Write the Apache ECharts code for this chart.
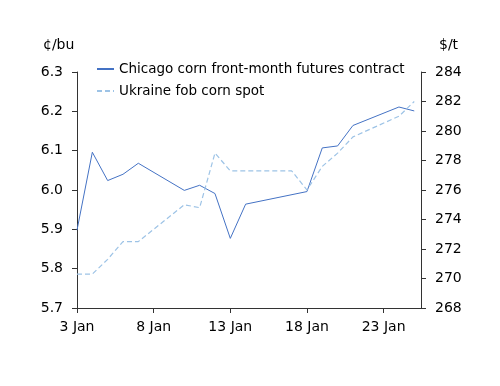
<!DOCTYPE html>
<html>
<head>
<meta charset="utf-8">
<script src="https://cdn.jsdelivr.net/npm/echarts@6/dist/echarts.min.js"></script>
<style>
html,body{margin:0;padding:0;background:#fff;}
#c{width:500px;height:386px;}
</style>
</head>
<body>
<div id="c"></div>
<script>
// Day of January 2022 (trading days)
const chicagoDays = [3,4,5,6,7,10,11,12,13,14,18,19,20,21,24,25];
const chicagoValues = [5.898,6.096,6.024,6.04,6.068,5.999,6.012,5.991,5.877,5.964,5.996,6.107,6.112,6.164,6.211,6.201];
const ukraineDays = [3,4,5,6,7,10,11,12,13,14,17,18,19,20,21,24,25];
const ukraineValues = [270.3,270.3,271.3,272.5,272.5,275.0,274.8,278.5,277.3,277.3,277.3,276.0,277.6,278.5,279.6,281.0,282.0];
const seriesNames = ['Chicago corn front-month futures contract','Ukraine fob corn spot'];
const leftUnit = '¢/bu';
const rightUnit = '$/t';

const FONT = 'DejaVu Sans';
const axisCol = '#333333';
const chart = echarts.init(document.getElementById('c'), null, {renderer:'canvas'});
const commonY = {
  axisLine:{show:true,lineStyle:{color:axisCol,width:1}},
  axisTick:{show:true,length:5,lineStyle:{color:axisCol}},
  splitLine:{show:false},
  axisLabel:{color:'#000',fontFamily:FONT,fontSize:14,margin:14}
};
chart.setOption({
  animation:false,
  textStyle:{fontFamily:FONT},
  grid:{left:77,right:79,top:72,bottom:78,containLabel:false},
  legend:{
    orient:'vertical',left:91,top:57,itemWidth:17,itemHeight:10,itemGap:8,
    itemStyle:{color:'rgba(0,0,0,0)',borderColor:'rgba(0,0,0,0)',borderWidth:0,opacity:0},
    textStyle:{fontFamily:FONT,fontSize:13.5,color:'#000'},
    data:seriesNames
  },
  graphic:[
    {type:'text',left:43,top:38,style:{text:leftUnit,font:'14px "DejaVu Sans"',fill:'#000'}},
    {type:'text',left:439,top:38,style:{text:rightUnit,font:'14px "DejaVu Sans"',fill:'#000'}}
  ],
  xAxis:{
    type:'value',min:3,max:25.44,interval:5,
    axisLine:{show:true,lineStyle:{color:axisCol,width:1}},
    axisTick:{show:true,length:5,lineStyle:{color:axisCol}},
    splitLine:{show:false},
    axisLabel:{color:'#000',fontFamily:FONT,fontSize:14,margin:12,showMaxLabel:false,
      formatter:v=>Math.round(v)+' Jan'}
  },
  yAxis:[
    Object.assign({type:'value',position:'left',min:5.7,max:6.3,interval:0.1},commonY,
      {axisLabel:Object.assign({},commonY.axisLabel,{formatter:v=>v.toFixed(1)})}),
    Object.assign({type:'value',position:'right',min:268,max:284,interval:2},commonY,
      {axisLabel:Object.assign({},commonY.axisLabel,{formatter:v=>String(Math.round(v))})})
  ],
  series:[
    {name:seriesNames[0],type:'line',yAxisIndex:0,symbol:'none',
     lineStyle:{color:'#4472C4',width:1},itemStyle:{color:'#4472C4'},
     data:chicagoDays.map((d,i)=>[d,chicagoValues[i]])},
    {name:seriesNames[1],type:'line',yAxisIndex:1,symbol:'none',
     lineStyle:{color:'#9DC3E6',width:1.2,type:[5,3]},itemStyle:{color:'#9DC3E6'},
     data:ukraineDays.map((d,i)=>[d,ukraineValues[i]])}
  ]
});
</script>
</body>
</html>
